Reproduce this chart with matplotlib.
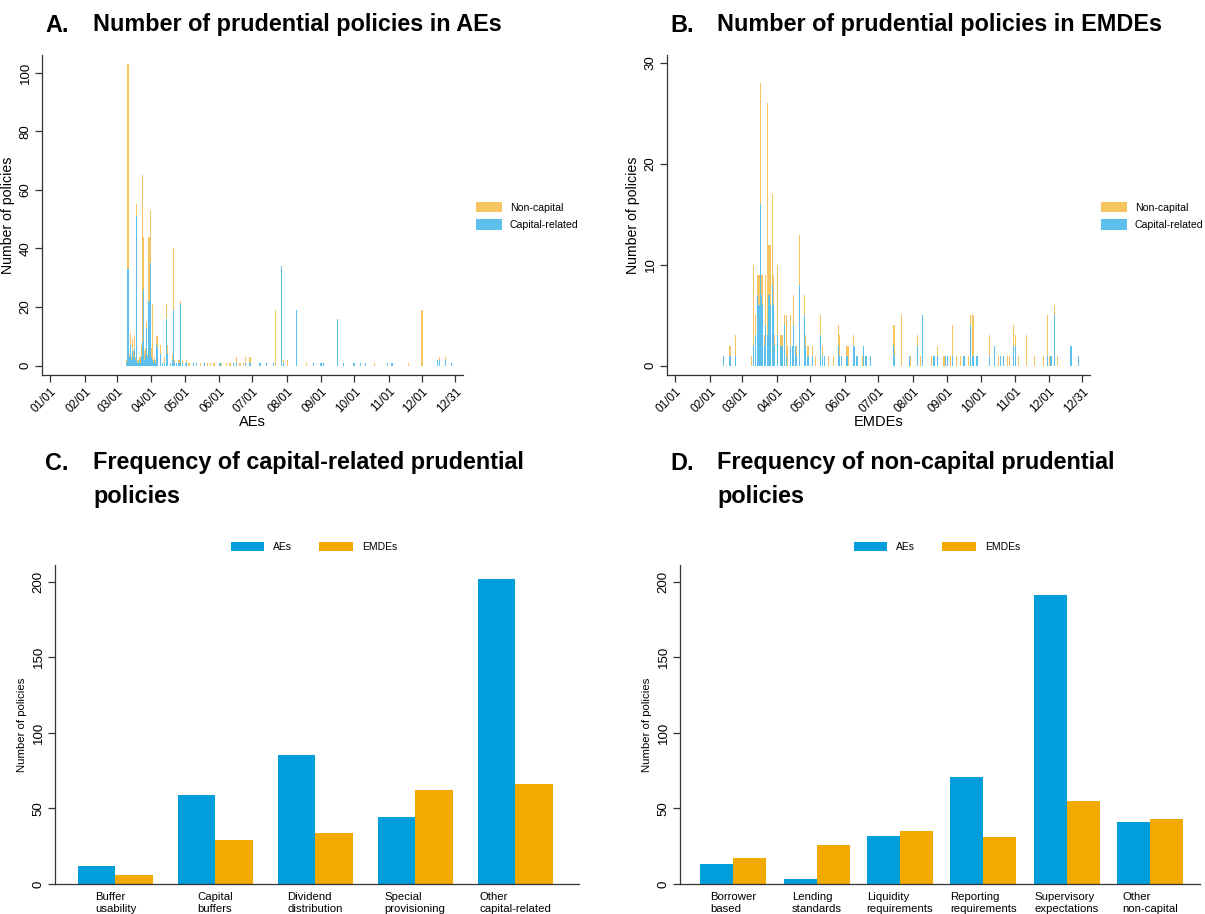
import matplotlib
matplotlib.use("Agg")
import matplotlib.pyplot as plt
import pandas as pd
import numpy as np

plt.rcParams['font.family'] = ['Liberation Sans', 'DejaVu Sans']

# ---------------- Panel A data (AEs), daily counts in 2020 ----------------
a_dates = ["03/10", "03/11", "03/12", "03/13", "03/14", "03/15", "03/16", "03/17", "03/18", "03/19",
           "03/20", "03/21", "03/22", "03/23", "03/24", "03/25", "03/26", "03/27", "03/28", "03/29",
           "03/30", "03/31", "04/01", "04/02", "04/03", "04/04", "04/05", "04/06", "04/07", "04/09",
           "04/11", "04/13", "04/15", "04/16", "04/18", "04/20", "04/21", "04/22", "04/24", "04/26",
           "04/27", "04/29", "05/02", "05/03", "05/05", "05/09", "05/12", "05/15", "05/19", "05/22",
           "05/24", "05/27", "05/28", "06/02", "06/03", "06/08", "06/11", "06/14", "06/17", "06/20",
           "06/23", "06/25", "06/29", "07/08", "07/14", "07/20", "07/22", "07/27", "07/29", "08/02",
           "08/10", "08/19", "08/25", "09/01", "09/03", "09/16", "09/21", "09/30", "10/01", "10/07",
           "10/11", "10/19", "10/31", "11/04", "11/19", "12/01", "12/15", "12/17", "12/22", "12/28"]
a_capital = [1, 33, 3, 7, 2, 5, 3, 6, 2, 51,
             1, 2, 1, 3, 8, 26, 2, 4, 13, 3,
             22, 35, 3, 2, 1, 2, 1, 7, 6, 4,
             1, 1, 16, 4, 1, 2, 19, 1, 1, 1,
             21, 1, 1, 1, 0, 1, 1, 0, 1, 0,
             0, 0, 0, 1, 0, 0, 0, 1, 1, 0,
             0, 1, 1, 1, 1, 1, 0, 34, 1, 0,
             19, 0, 1, 1, 1, 16, 1, 1, 1, 1,
             1, 0, 1, 1, 0, 0, 2, 2, 2, 1]
a_noncapital = [1, 70, 1, 4, 1, 4, 2, 4, 1, 4,
                1, 1, 2, 4, 57, 18, 3, 2, 2, 1,
                22, 18, 3, 19, 1, 1, 1, 3, 4, 3,
                0, 2, 5, 3, 0, 2, 21, 1, 0, 1,
                1, 1, 0, 1, 1, 0, 0, 1, 0, 1,
                1, 1, 1, 0, 1, 1, 1, 0, 2, 1,
                1, 2, 2, 0, 0, 0, 19, 0, 1, 2,
                0, 1, 0, 0, 0, 0, 0, 0, 0, 0,
                0, 1, 0, 0, 1, 19, 0, 1, 1, 0]

# ---------------- Panel B data (EMDEs), daily counts in 2020 ----------------
b_dates = ["02/13", "02/19", "02/24", "03/09", "03/11", "03/13", "03/15", "03/16", "03/17", "03/18",
           "03/19", "03/21", "03/22", "03/24", "03/25", "03/26", "03/28", "03/29", "03/30", "04/02",
           "04/04", "04/05", "04/06", "04/08", "04/10", "04/11", "04/13", "04/15", "04/16", "04/18",
           "04/19", "04/21", "04/26", "04/27", "04/29", "05/03", "05/06", "05/10", "05/12", "05/14",
           "05/17", "05/22", "05/26", "05/27", "05/29", "06/03", "06/04", "06/09", "06/10", "06/12",
           "06/17", "06/18", "06/20", "06/24", "07/15", "07/16", "07/22", "07/29", "07/30", "08/05",
           "08/08", "08/10", "08/18", "08/20", "08/23", "08/29", "08/30", "09/01", "09/04", "09/06",
           "09/09", "09/13", "09/16", "09/20", "09/22", "09/24", "09/27", "09/28", "10/09", "10/13",
           "10/17", "10/19", "10/21", "10/25", "10/27", "10/30", "11/01", "11/04", "11/11", "11/18",
           "11/26", "11/30", "12/02", "12/03", "12/06", "12/09", "12/21", "12/28"]
b_capital = [1, 1, 1, 0, 2, 3, 7, 6, 16, 7,
             6, 2, 4, 3, 7, 6, 8, 6, 2, 3,
             2, 2, 2, 4, 1, 0, 2, 2, 4, 2,
             1, 8, 5, 2, 1, 1, 0, 3, 1, 1,
             0, 0, 2, 1, 1, 1, 0, 2, 2, 1,
             0, 2, 1, 1, 2, 1, 0, 1, 0, 2,
             0, 5, 0, 1, 1, 0, 1, 1, 0, 1,
             0, 0, 1, 0, 4, 1, 1, 1, 1, 2,
             0, 1, 1, 0, 0, 2, 2, 0, 0, 0,
             0, 1, 0, 1, 5, 0, 2, 1]
b_noncapital = [0, 1, 2, 1, 8, 2, 2, 3, 12, 2,
                3, 1, 5, 23, 5, 6, 9, 3, 1, 7,
                1, 1, 1, 1, 4, 2, 3, 0, 3, 0,
                1, 5, 2, 1, 1, 1, 1, 2, 1, 0,
                1, 1, 2, 2, 0, 1, 2, 1, 0, 0,
                1, 0, 0, 0, 2, 3, 5, 0, 1, 1,
                1, 0, 1, 0, 1, 1, 0, 0, 1, 3,
                1, 1, 0, 1, 1, 4, 0, 0, 2, 0,
                1, 0, 0, 1, 1, 2, 1, 1, 3, 1,
                1, 4, 1, 0, 1, 1, 0, 0]

# ---------------- Panels C and D ----------------
c_categories = ["Buffer\nusability", "Capital\nbuffers", "Dividend\ndistribution",
                "Special\nprovisioning", "Other\ncapital-related"]
c_aes = [12, 59, 85, 44, 202]
c_emdes = [6, 29, 34, 62, 66]

d_categories = ["Borrower\nbased", "Lending\nstandards", "Liquidity\nrequirements",
                "Reporting\nrequirements", "Supervisory\nexpectations", "Other\nnon-capital"]
d_aes = [13, 3, 32, 71, 191, 41]
d_emdes = [17, 26, 35, 31, 55, 43]

month_ticks = ["01/01", "02/01", "03/01", "04/01", "05/01", "06/01", "07/01",
               "08/01", "09/01", "10/01", "11/01", "12/01", "12/31"]

BLUE = "#009EDB"
ORANGE = "#F2A900"
BLUE_T = "#35B0E6"
ORANGE_T = "#F4B73A"
AXC = "#333333"

W, H = 1205, 914
fig = plt.figure(figsize=(W / 100, H / 100), dpi=100)


def add_ax(left, top, right, bottom):
    return fig.add_axes([left / W, 1 - bottom / H, (right - left) / W, (bottom - top) / H])


def doy(s):
    return (pd.Timestamp("2020/" + s) - pd.Timestamp("2020-01-01")).days


def style(ax):
    for s in ["top", "right"]:
        ax.spines[s].set_visible(False)
    for s in ["left", "bottom"]:
        ax.spines[s].set_color(AXC)
        ax.spines[s].set_linewidth(0.9)
    ax.tick_params(colors=AXC, length=5, width=0.9, labelcolor="black", pad=2.5)
    ax.patch.set_alpha(0)


def daily_panel(ax, dates, cap, noncap, ymax, yticks, xlabel, left_px, width_px, ylab_px):
    x = np.array([doy(d) for d in dates])
    cap = np.array(cap)
    noncap = np.array(noncap)
    ax.bar(x, cap, width=1.0, color=BLUE_T, alpha=0.8, linewidth=0, label="Capital-related")
    ax.bar(x, noncap, bottom=cap, width=1.0, color=ORANGE_T, alpha=0.8, linewidth=0, label="Non-capital")
    style(ax)
    ax.set_xlim(-7.5, 372)
    ax.set_ylim(-ymax * 0.03, ymax)
    ax.set_yticks(yticks)
    ax.set_yticklabels([str(t) for t in yticks], rotation=90, va="center", fontsize=9.5)
    xt = [doy(t) for t in month_ticks]
    ax.set_xticks(xt)
    ax.set_xticklabels(month_ticks, rotation=45, ha="right", rotation_mode="anchor", fontsize=8.5)
    ax.set_xlabel(xlabel, fontsize=10.5, labelpad=0)
    ax.set_ylabel("Number of policies", fontsize=10.2)
    ax.yaxis.set_label_coords((ylab_px - left_px) / width_px, 0.5)
    h, l = ax.get_legend_handles_labels()
    return h, l


leg_kw = dict(loc="center left", frameon=False, fontsize=7.6, handlelength=2.45, handleheight=1.1,
              labelspacing=0.65, handletextpad=0.7, borderpad=0.3)

# Panel A
axA = add_ax(42, 55, 463, 375)
h, l = daily_panel(axA, a_dates, a_capital, a_noncapital, 106, [0, 20, 40, 60, 80, 100], "AEs",
                   42, 421, 15)
fig.legend([h[1], h[0]], [l[1], l[0]], bbox_to_anchor=(468 / W, 1 - 216 / H), **leg_kw)

# Panel B
axB = add_ax(667, 55, 1090, 375)
h, l = daily_panel(axB, b_dates, b_capital, b_noncapital, 30.8, [0, 10, 20, 30], "EMDEs",
                   667, 423, 640)
fig.legend([h[1], h[0]], [l[1], l[0]], bbox_to_anchor=(1093 / W, 1 - 216 / H), **leg_kw)


def group_panel(ax, cats, aes, emdes, frac, xlim, left_px, width_px, ylab_px):
    x = np.arange(len(cats))
    bw = frac / 2
    ax.bar(x - bw / 2, aes, width=bw, color=BLUE, linewidth=0, label="AEs")
    ax.bar(x + bw / 2, emdes, width=bw, color=ORANGE, linewidth=0, label="EMDEs")
    style(ax)
    ax.set_xlim(*xlim)
    ax.set_ylim(0, 211)
    ax.set_yticks([0, 50, 100, 150, 200])
    ax.set_yticklabels(["0", "50", "100", "150", "200"], rotation=90, va="center", fontsize=9.5)
    ax.set_xticks(x)
    ax.set_xticklabels(cats, fontsize=8.2, multialignment="left")
    ax.tick_params(axis="x", length=0, pad=6)
    ax.set_ylabel("Number of policies", fontsize=8.2)
    ax.yaxis.set_label_coords((ylab_px - left_px) / width_px, 0.5)


lg2 = dict(loc="center", bbox_transform=fig.transFigure, ncol=2, frameon=False, fontsize=7.5,
           handlelength=3.2, handleheight=0.95, columnspacing=2.6, handletextpad=0.9)

axC = add_ax(55, 565, 579, 884)
group_panel(axC, c_categories, c_aes, c_emdes, 0.75, (-0.605, 4.64), 55, 524, 27)
axC.legend(bbox_to_anchor=(314 / W, 1 - 547 / H), **lg2)

axD = add_ax(680, 565, 1200, 884)
group_panel(axD, d_categories, d_aes, d_emdes, 0.79, (-0.64, 5.6), 680, 520, 652)
axD.legend(bbox_to_anchor=(937 / W, 1 - 547 / H), **lg2)

# Titles
tkw = dict(fontsize=16.8, fontweight="bold", va="center", ha="left")
fig.text(45 / W, 1 - 25 / H, "A.", **tkw)
fig.text(93 / W, 1 - 25 / H, "Number of prudential policies in AEs", **tkw)
fig.text(670 / W, 1 - 25 / H, "B.", **tkw)
fig.text(717 / W, 1 - 25 / H, "Number of prudential policies in EMDEs", **tkw)
fig.text(45 / W, 1 - 463 / H, "C.", **tkw)
fig.text(93 / W, 1 - 463 / H, "Frequency of capital-related prudential", **tkw)
fig.text(93 / W, 1 - 497 / H, "policies", **tkw)
fig.text(670 / W, 1 - 463 / H, "D.", **tkw)
fig.text(717 / W, 1 - 463 / H, "Frequency of non-capital prudential", **tkw)
fig.text(717 / W, 1 - 497 / H, "policies", **tkw)

fig.savefig("out.png", dpi=100, facecolor="white")
